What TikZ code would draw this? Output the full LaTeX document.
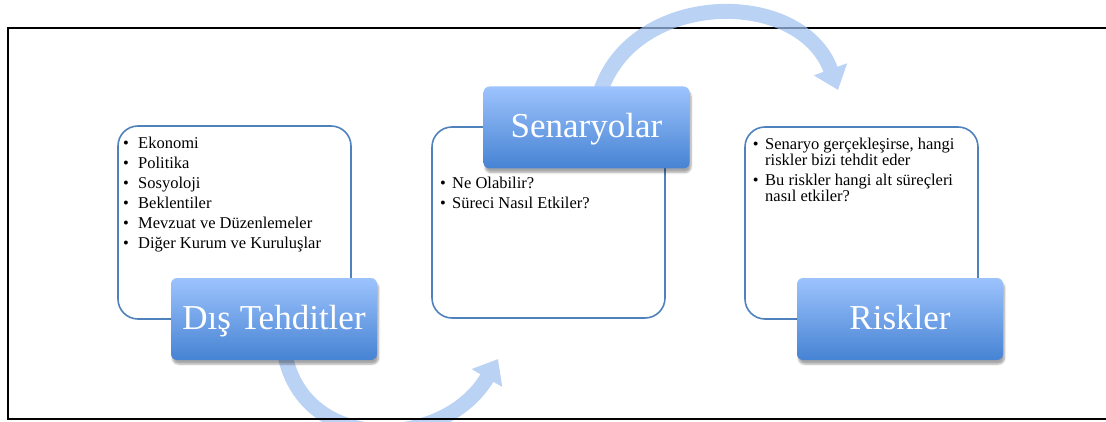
\documentclass[tikz,border=0pt]{standalone}
\usepackage{fontspec}
\setmainfont{Liberation Serif}
\usetikzlibrary{arrows.meta,shadows.blur}

\definecolor{edgeblue}{RGB}{79,129,189}
\definecolor{boxtop}{RGB}{157,195,253}
\definecolor{boxbot}{RGB}{70,131,211}
\definecolor{arcblue}{RGB}{160,192,240}

% bullet lists with hanging indent
\newlength\bulletw
\newcommand\itm[1]{\par\noindent\hangindent=\bulletw\hangafter=1%
  \makebox[\bulletw][l]{\textbullet}#1\par}
\newcommand\blist[2]{\parbox[t]{230pt}{\setlength\bulletw{#1}%
  \fontsize{16.5pt}{16.3pt}\selectfont\parskip=3.7pt\relax #2}}

\tikzset{
  outline/.style={draw=edgeblue, line width=1.6pt, rounded corners=20pt,
    minimum width=233pt, inner sep=0pt},
  bluebox/.style={rounded corners=6pt, minimum width=206pt, minimum height=82pt,
    top color=boxtop, bottom color=boxbot, draw=none, text=white,
    font=\fontsize{35pt}{40pt}\selectfont, text height=24pt, text depth=3pt,
    inner sep=0pt,
    blur shadow={shadow xshift=1.5pt, shadow yshift=-4pt, shadow blur steps=6,
      shadow opacity=35}},
  listtext/.style={anchor=base west, inner sep=0pt},
  arcarrow/.style={draw=arcblue, line width=15pt,
    -{Triangle[width=34pt,length=22pt]}},
  frameline/.style={line width=2pt, black},
}

\begin{document}
\begin{tikzpicture}[x=1pt, y=-1pt]
\useasboundingbox (0,0) rectangle (1106,422);
\clip (0,0) rectangle (1106,422);

% outer frame (left and top edges)
\draw[frameline] (8,419) -- (8,28) -- (1110,28);

% rounded outline boxes
\node[outline, minimum height=193pt] (box1) at (234.5,222.5) {};
\node[outline, minimum height=191pt] (box2) at (548.5,222.5) {};
\node[outline, minimum height=192pt] (box3) at (861.5,223) {};

% bullet lists
\node[listtext] (list1) at (123,148.3) {\blist{15pt}{%
  \itm{Ekonomi}
  \itm{Politika}
  \itm{Sosyoloji}
  \itm{Beklentiler}
  \itm{Mevzuat ve Düzenlemeler}
  \itm{Diğer Kurum ve Kuruluşlar}}};
\node[listtext] (list2) at (440,189) {\blist{12pt}{%
  \itm{Ne Olabilir?}
  \itm{Süreci Nasıl Etkiler?}}};
\node[listtext] (list3) at (752.7,149.3) {\blist{12.3pt}{%
  \itm{Senaryo gerçekleşirse, hangi\newline riskler bizi tehdit eder}
  \itm{Bu riskler hangi alt süreçleri\newline nasıl etkiler?}}};

% anchor points of the curved arrows
\coordinate (c1a) at (625,-10);
\coordinate (c1b) at (800,-15);
\coordinate (a1e) at (838,90);
\coordinate (c2a) at (305,455);
\coordinate (c2b) at (445,450);
\coordinate (a2e) at (498,359);

% curved arrows
\begin{scope}[transparency group, opacity=0.72]
  \draw[arcarrow] (598,100) .. controls (c1a) and (c1b) .. (a1e);
\end{scope}
\begin{scope}[transparency group, opacity=0.72]
  \draw[arcarrow] (285,355) .. controls (c2a) and (c2b) .. (a2e);
\end{scope}

% titled boxes
\node[bluebox] (dis) at (274,319) {Dış Tehditler};
\node[bluebox] (sen) at (586.5,127.5) {Senaryolar};
\node[bluebox] (risk) at (900,319) {Riskler};

% outer frame (bottom edge)
\draw[frameline] (7,419) -- (1110,419);
\end{tikzpicture}
\end{document}
